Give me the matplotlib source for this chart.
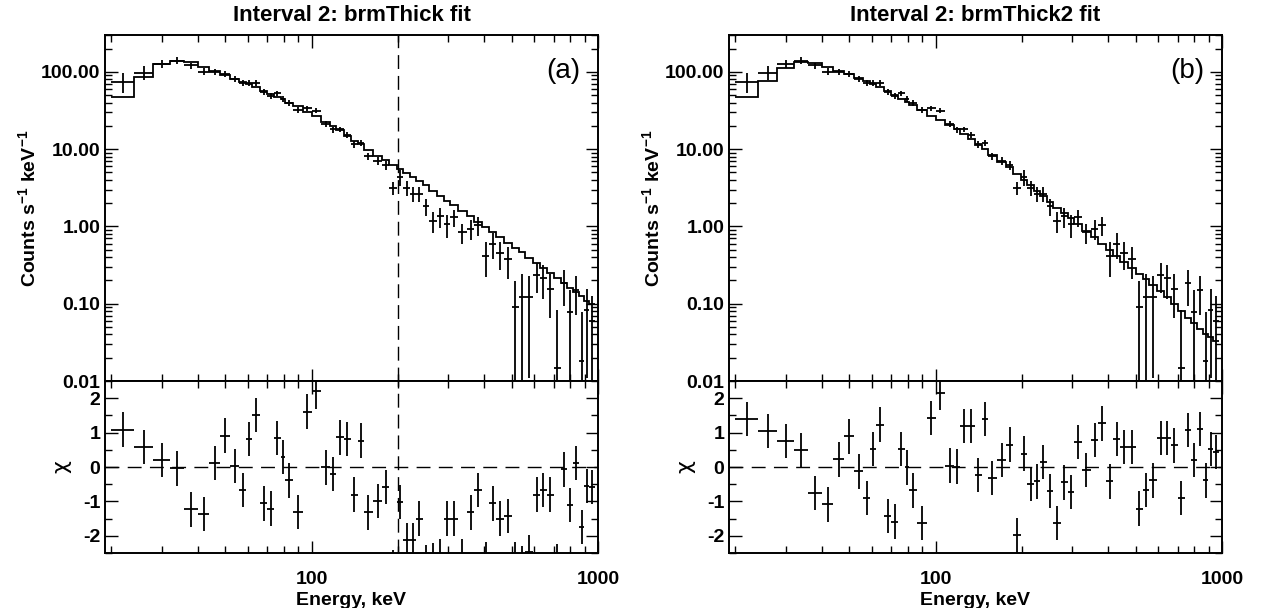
import numpy as np
import matplotlib
matplotlib.use("Agg")
import matplotlib.pyplot as plt
from matplotlib.ticker import FixedLocator, NullFormatter, FuncFormatter, MultipleLocator

plt.rcParams['font.family'] = ['Liberation Sans', 'DejaVu Sans']
plt.rcParams['font.weight'] = 'bold'
plt.rcParams['mathtext.fontset'] = 'custom'
plt.rcParams['mathtext.rm'] = 'Liberation Sans:bold'
plt.rcParams['mathtext.bf'] = 'Liberation Sans:bold'

# energy bin edges, keV
edges = [20, 24, 28, 32, 36, 40, 44, 48, 52, 56,
         59, 62, 66, 70, 74, 78, 81, 86, 93, 100,
         108, 116, 122, 130, 137, 145, 152, 164, 176, 187,
         199, 209, 221, 232, 244, 258, 274, 289, 305, 325,
         348, 370, 393, 417, 442, 470, 500, 530, 558, 594,
         628, 662, 703, 741, 780, 817, 857, 895, 930, 975]

# measured count rate (counts/s/keV) and 1-sigma errors
rate = [74.8, 98, 126, 140, 121, 101, 101, 94, 82, 72.6,
        72.6, 72.6, 54.5, 48.8, 52.8, 44.2, 39.2, 32.1, 33.7, 31.4,
        21.1, 18, 18, 15.2, 11.6, 12.1, 8.1, 7.0, 6.2, 3.18,
        4.3, 3.18, 2.66, 2.66, 1.82, 1.17, 1.35, 1.06, 1.32, 0.84,
        0.93, 1.03, 0.42, 0.6, 0.45, 0.38, 0.0895, 0.121, 0.121, 0.238,
        0.215, 0.155, 0.0149, 0.184, 0.077, 0.151, 0.018, 0.083, 0.06]
rate_err = [22, 20, 15, 14, 11, 11, 9, 8, 7, 6.5,
            6, 6, 5, 4.5, 4.5, 4, 3.5, 3, 2.5, 2.3,
            1.8, 1.6, 1.5, 1.3, 1.2, 1.1, 0.9, 0.8, 0.8, 0.6,
            1.0, 0.7, 0.6, 0.6, 0.45, 0.35, 0.4, 0.35, 0.33, 0.25,
            0.27, 0.28, 0.2, 0.22, 0.18, 0.17, 0.11, 0.12, 0.11, 0.1,
            0.1, 0.09, 0.068, 0.09, 0.075, 0.08, 0.06, 0.072, 0.066]

# brmThick model (a)
model_a = [47.7, 87, 126, 140, 134, 117, 104, 90, 81, 73.5,
           69, 63, 57, 52, 47.5, 44, 40, 36, 30.5, 27,
           22.5, 20, 17.5, 15, 12.8, 11.5, 9.8, 8.2, 7.2, 6.3,
           5.6, 4.9, 4.3, 3.9, 3.4, 2.9, 2.45, 2.15, 1.9, 1.6,
           1.35, 1.15, 0.98, 0.84, 0.72, 0.61, 0.52, 0.46, 0.39, 0.34,
           0.29, 0.25, 0.215, 0.185, 0.16, 0.14, 0.125, 0.11, 0.098]
# brmThick2 model (b)
model_b = [47, 77, 112, 136, 130, 115, 104, 94, 84, 76,
           70, 63, 56, 50, 45, 41, 37, 32.5, 27, 24,
           20.5, 18, 15.5, 13.5, 11.3, 10, 8.4, 6.9, 5.8, 4.75,
           4.0, 3.4, 2.9, 2.5, 2.1, 1.75, 1.5, 1.28, 1.08, 0.88,
           0.73, 0.6, 0.5, 0.41, 0.35, 0.29, 0.24, 0.21, 0.175, 0.145,
           0.122, 0.1, 0.08, 0.066, 0.056, 0.047, 0.041, 0.037, 0.033]

# normalised residuals
chi_a = [1.09, 0.58, 0.2, -0.04, -1.23, -1.37, 0.12, 0.91, 0.03, -0.66,
         0.82, 1.51, -1.06, -1.21, 0.85, 0.29, -0.39, -1.31, 1.61, 2.2,
         -0.01, -0.2, 0.86, 0.82, -0.8, 0.77, -1.32, -0.99, -0.58, -2.9,
         -1.02, -2.13, -2.13, -1.5, -2.78, -2.7, -2.6, -1.5, -1.5, -2.6,
         -1.32, -0.66, -2.67, -1.06, -1.5, -1.42, -2.67, -2.8, -2.47, -0.8,
         -0.66, -0.8, -2.73, -0.07, -1.11, 0.12, -1.75, -0.56, -0.58]
chi_b = [1.4, 1.04, 0.75, 0.49, -0.75, -1.09, 0.22, 0.89, -0.13, -0.9,
         0.53, 1.23, -1.42, -1.59, 0.53, -0.01, -0.68, -1.63, 1.42, 2.15,
         0.04, 0.01, 1.2, 1.2, -0.23, 1.39, -0.32, 0.2, 0.65, -1.99,
         0.39, -0.49, -0.42, 0.15, -0.7, -1.63, -0.45, -0.73, 0.72, -0.09,
         0.79, 1.27, -0.42, 0.81, 0.58, 0.58, -1.21, -0.66, -0.39, 0.85,
         0.85, 0.63, -0.9, 1.08, 0.2, 1.1, -0.39, 0.53, 0.44]

panels = [("Interval 2: brmThick fit", "(a)", model_a, chi_a, True),
          ("Interval 2: brmThick2 fit", "(b)", model_b, chi_b, False)]

edges = np.array(edges, float)
rate = np.array(rate)
rate_err = np.array(rate_err)
ecen = np.sqrt(edges[:-1] * edges[1:])
xerr = [ecen - edges[:-1], edges[1:] - ecen]
lo = np.minimum(rate_err, rate - 1e-4)
yerr = [lo, rate_err]

W, H = 1261, 608
fig = plt.figure(figsize=(W / 100, H / 100), dpi=100)
FS = 14

def style(ax):
    ax.tick_params(which='both', direction='in', top=True, right=True, width=1, labelsize=FS)
    ax.tick_params(which='major', length=9)
    ax.tick_params(which='minor', length=5)
    ax.tick_params(axis='x', pad=13)
    for s in ax.spines.values():
        s.set_linewidth(1.4)

xfmt = FuncFormatter(lambda v, p: "%d" % v if v in (100, 1000) else "")

for i, (title, tag, model, chi, vline) in enumerate(panels):
    left = [105, 729][i]
    ax1 = fig.add_axes([left / W, 1 - 381 / H, 493 / W, 346 / H])
    ax2 = fig.add_axes([left / W, 1 - 553 / H, 493 / W, 172 / H])

    ax1.stairs(model, edges, color='k', lw=1.3, baseline=None)
    ax1.errorbar(ecen, rate, xerr=xerr, yerr=yerr, fmt='none', ecolor='k', elinewidth=1.3, capsize=0)
    ax1.set_xscale('log')
    ax1.set_yscale('log')
    ax1.set_xlim(19, 1000)
    ax1.set_ylim(0.01, 300)
    ax1.yaxis.set_major_formatter(FuncFormatter(lambda v, p: "%.2f" % v))
    ax1.xaxis.set_major_formatter(NullFormatter())
    ax1.xaxis.set_minor_formatter(NullFormatter())
    ax1.set_ylabel(r"Counts s$^{-1}$ keV$^{-1}$", fontsize=FS, fontweight='bold')
    ax1.set_title(title, fontsize=16, fontweight='bold', pad=10)
    ax1.text(0.965, 0.895, tag, transform=ax1.transAxes, ha='right', va='center',
             fontsize=20, fontweight='normal')
    style(ax1)
    ax1.yaxis.set_label_coords(-0.132, 0.5)

    ax2.errorbar(ecen, chi, xerr=xerr, yerr=0.5, fmt='none', ecolor='k', elinewidth=1.3, capsize=0)
    ax2.axhline(0, color='k', lw=1, dashes=(10, 6))
    ax2.set_xscale('log')
    ax2.set_xlim(19, 1000)
    ax2.set_ylim(-2.5, 2.5)
    ax2.yaxis.set_major_locator(FixedLocator([-2, -1, 0, 1, 2]))
    ax2.yaxis.set_minor_locator(MultipleLocator(0.5))
    ax2.yaxis.set_major_formatter(FuncFormatter(lambda v, p: "%d" % round(v)))
    ax2.xaxis.set_major_formatter(xfmt)
    ax2.xaxis.set_minor_formatter(NullFormatter())
    ax2.set_xlabel("Energy, keV", fontsize=FS, fontweight='bold', labelpad=3)
    style(ax2)
    ax2.text(-0.088, 0.5, "\u03c7", transform=ax2.transAxes, ha='center', va='center',
             rotation=90, fontsize=16, fontweight='normal', family='DejaVu Sans')

    if vline:
        for ax in (ax1, ax2):
            ax.axvline(200, color='k', lw=1, dashes=(10, 5))

fig.savefig("out.png", dpi=100)
